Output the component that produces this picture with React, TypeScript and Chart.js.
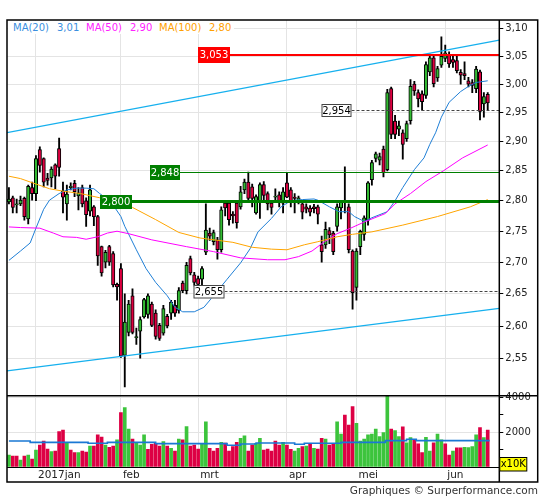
import React, { useEffect, useRef } from 'react';
import { Chart, registerables } from 'chart.js';

Chart.register(...registerables);

const FONT = '"DejaVu Sans", sans-serif';
const GRID = '#e4e4e4';
const GREEN = '#33bb33';
const RED = '#dd0040';
const VGREEN = '#3cc43c';
const VRED = '#dd0044';

// x axis: trading-day index, month starts
const monthTicks = [7, 29, 49, 72, 90, 113];
const monthLabels = ['2017jan', 'feb', 'mrt', 'apr', 'mei', 'jun'];

// price axis ticks (log scale)
const priceTicks = [2.55, 2.6, 2.65, 2.7, 2.75, 2.8, 2.85, 2.9, 2.95, 3.0, 3.05, 3.1];
const priceMin = 2.495;
const priceMax = 3.1161;

// volume axis (x10K)
const volTicks = [0, 1000, 2000, 3000, 4000];
const volLabelTicks = [2000, 4000];
const volMax = 4110;

const open = [
  2.798, 2.805, 2.793, 2.795, 2.804, 2.770, 2.822, 2.812, 2.886, 2.871,
  2.838, 2.838, 2.860, 2.888, 2.816, 2.795, 2.822, 2.829, 2.808, 2.822,
  2.800, 2.783, 2.790, 2.774, 2.725, 2.700, 2.725, 2.714, 2.665, 2.690,
  2.555, 2.590, 2.647, 2.582, 2.592, 2.614, 2.618, 2.634, 2.620, 2.601,
  2.589, 2.615, 2.620, 2.632, 2.624, 2.667, 2.655, 2.706, 2.680, 2.674,
  2.673, 2.716, 2.747, 2.733, 2.736, 2.720, 2.796, 2.796, 2.778, 2.796,
  2.790, 2.818, 2.831, 2.823, 2.780, 2.798, 2.827, 2.812, 2.796, 2.806,
  2.810, 2.796, 2.830, 2.818, 2.806, 2.800, 2.795, 2.790, 2.788, 2.790,
  2.790, 2.728, 2.728, 2.751, 2.747, 2.758, 2.788, 2.797, 2.790, 2.718,
  2.660, 2.725, 2.745, 2.768, 2.835, 2.871, 2.868, 2.887, 2.852, 2.992,
  2.935, 2.921, 2.915, 2.905, 2.936, 3.000, 2.985, 2.983, 2.980, 3.022,
  3.047, 3.011, 3.034, 3.046, 3.052, 3.044, 3.042, 3.021, 3.019, 3.006,
  3.003, 2.992, 3.022, 2.965, 2.982,
];
const high = [
  2.822, 2.808, 2.803, 2.808, 2.806, 2.826, 2.831, 2.876, 2.891, 2.872,
  2.846, 2.857, 2.862, 2.906, 2.831, 2.826, 2.830, 2.834, 2.822, 2.826,
  2.805, 2.826, 2.792, 2.776, 2.726, 2.719, 2.727, 2.717, 2.667, 2.698,
  2.650, 2.640, 2.658, 2.597, 2.614, 2.643, 2.650, 2.637, 2.625, 2.604,
  2.632, 2.618, 2.640, 2.640, 2.660, 2.670, 2.700, 2.710, 2.684, 2.678,
  2.693, 2.795, 2.755, 2.752, 2.740, 2.790, 2.800, 2.800, 2.782, 2.800,
  2.824, 2.836, 2.848, 2.828, 2.810, 2.830, 2.832, 2.815, 2.800, 2.820,
  2.815, 2.822, 2.846, 2.822, 2.812, 2.808, 2.798, 2.795, 2.792, 2.794,
  2.793, 2.742, 2.765, 2.756, 2.750, 2.795, 2.800, 2.857, 2.795, 2.720,
  2.722, 2.752, 2.775, 2.832, 2.868, 2.882, 2.880, 2.892, 2.991, 2.995,
  2.945, 2.935, 2.920, 2.935, 3.008, 3.005, 2.990, 2.988, 3.040, 3.054,
  3.052, 3.032, 3.085, 3.070, 3.058, 3.050, 3.050, 3.026, 3.040, 3.012,
  3.008, 3.032, 3.025, 2.985, 2.985,
];
const low = [
  2.795, 2.780, 2.780, 2.792, 2.768, 2.762, 2.801, 2.800, 2.848, 2.823,
  2.826, 2.823, 2.820, 2.841, 2.780, 2.768, 2.818, 2.807, 2.785, 2.790,
  2.758, 2.775, 2.759, 2.695, 2.678, 2.691, 2.695, 2.661, 2.640, 2.552,
  2.508, 2.585, 2.588, 2.572, 2.551, 2.612, 2.612, 2.599, 2.580, 2.578,
  2.586, 2.597, 2.610, 2.615, 2.620, 2.652, 2.650, 2.680, 2.662, 2.660,
  2.655, 2.712, 2.735, 2.728, 2.705, 2.716, 2.775, 2.760, 2.763, 2.755,
  2.786, 2.812, 2.800, 2.790, 2.778, 2.771, 2.800, 2.785, 2.778, 2.798,
  2.790, 2.780, 2.805, 2.790, 2.780, 2.795, 2.770, 2.780, 2.775, 2.780,
  2.762, 2.700, 2.722, 2.730, 2.712, 2.750, 2.770, 2.780, 2.715, 2.626,
  2.640, 2.712, 2.735, 2.760, 2.826, 2.865, 2.860, 2.840, 2.850, 2.905,
  2.905, 2.910, 2.870, 2.900, 2.930, 2.980, 2.960, 2.954, 2.975, 3.015,
  2.995, 3.005, 3.030, 3.040, 3.030, 3.030, 3.020, 3.000, 3.008, 2.995,
  2.985, 2.985, 2.937, 2.942, 2.955,
];
const close = [
  2.803, 2.789, 2.795, 2.801, 2.774, 2.824, 2.812, 2.871, 2.859, 2.831,
  2.834, 2.853, 2.841, 2.856, 2.806, 2.811, 2.824, 2.815, 2.813, 2.795,
  2.777, 2.818, 2.774, 2.710, 2.683, 2.716, 2.700, 2.664, 2.661, 2.554,
  2.606, 2.634, 2.590, 2.584, 2.610, 2.641, 2.647, 2.601, 2.584, 2.581,
  2.627, 2.600, 2.637, 2.620, 2.655, 2.655, 2.695, 2.683, 2.668, 2.665,
  2.690, 2.752, 2.742, 2.748, 2.720, 2.785, 2.788, 2.769, 2.775, 2.764,
  2.815, 2.831, 2.804, 2.804, 2.807, 2.827, 2.809, 2.795, 2.789, 2.808,
  2.797, 2.815, 2.806, 2.800, 2.804, 2.805, 2.781, 2.786, 2.781, 2.787,
  2.778, 2.717, 2.753, 2.744, 2.717, 2.790, 2.798, 2.799, 2.720, 2.652,
  2.718, 2.750, 2.772, 2.830, 2.864, 2.879, 2.874, 2.847, 2.985, 2.912,
  2.912, 2.927, 2.895, 2.931, 2.996, 2.988, 2.974, 2.969, 3.035, 3.047,
  3.001, 3.028, 3.050, 3.056, 3.036, 3.039, 3.024, 3.016, 3.015, 3.000,
  2.998, 3.027, 2.952, 2.978, 2.967,
];

// volume (x10K) and its colour (1 = green, 0 = red)
const volume = [
  690, 635, 635, 404, 635, 690, 460, 980, 1270, 1500,
  1040, 885, 923, 2040, 2135, 1420, 980, 827, 827, 923,
  865, 1210, 1210, 1850, 1730, 1270, 1135, 1210, 1560, 3135,
  3420, 2190, 1615, 1400, 1270, 1850, 1020, 1310, 1365, 1210,
  1460, 1210, 1080, 923, 1615, 1560, 2330, 1210, 1270, 1040,
  1310, 2600, 1080, 923, 1080, 1420, 1385, 923, 1170, 1420,
  1650, 1790, 923, 1270, 1365, 1650, 980, 1040, 923, 1500,
  1270, 1420, 1270, 1020, 923, 1080, 1170, 1210, 1330, 1080,
  1040, 1650, 1615, 1270, 1365, 2600, 1900, 3000, 2420, 3480,
  2520, 1500, 1615, 1850, 1900, 2190, 1750, 1980, 4115, 2190,
  2100, 1750, 2310, 1400, 1690, 1600, 1330, 830, 1710, 923,
  1400, 1900, 1560, 1330, 690, 923, 1100, 1100, 1135, 1115,
  1170, 1850, 2270, 1690, 2135,
];
const volUp = [
  1, 0, 0, 1, 0, 1, 0, 1, 0, 0,
  0, 1, 0, 0, 0, 1, 0, 0, 1, 0,
  0, 1, 0, 0, 0, 1, 0, 0, 1, 0,
  1, 1, 0, 1, 1, 1, 0, 0, 0, 0,
  1, 0, 1, 0, 1, 0, 1, 0, 0, 0,
  1, 1, 0, 0, 0, 1, 0, 0, 0, 0,
  1, 1, 0, 0, 1, 1, 0, 0, 0, 0,
  0, 1, 0, 0, 1, 1, 0, 1, 0, 1,
  0, 0, 1, 0, 0, 1, 1, 0, 0, 0,
  1, 1, 1, 1, 1, 1, 1, 1, 1, 0,
  1, 1, 0, 1, 1, 0, 0, 0, 1, 1,
  0, 1, 1, 0, 0, 1, 0, 0, 1, 1,
  1, 1, 0, 1, 0,
];

// moving averages read at sampled bar positions
const ma20X = [0, 3, 5.5, 7, 9, 10.5, 13, 15, 17.5, 20, 22, 23.5, 25.5, 27.5, 29, 30, 33, 35.5, 38, 41, 43, 45, 48, 50.5, 53, 56.5, 60, 62.5, 64.5, 68, 70.5, 73, 76, 79, 80, 83, 85.5, 88, 89.5, 92, 94, 98, 100, 102, 105, 107.5, 109, 110.5, 112, 114, 117, 119, 121, 124];
const ma20Y = [2.703, 2.718, 2.731, 2.755, 2.786, 2.801, 2.812, 2.818, 2.821, 2.821, 2.820, 2.812, 2.803, 2.788, 2.774, 2.758, 2.720, 2.690, 2.668, 2.647, 2.629, 2.622, 2.622, 2.629, 2.647, 2.673, 2.699, 2.722, 2.749, 2.771, 2.790, 2.800, 2.802, 2.803, 2.801, 2.790, 2.782, 2.782, 2.774, 2.766, 2.772, 2.782, 2.800, 2.822, 2.852, 2.872, 2.895, 2.915, 2.942, 2.968, 2.987, 2.996, 3.003, 3.006];
const ma50X = [0, 3, 8, 11.5, 14, 17.5, 20, 23, 25.5, 28, 31, 37, 46, 53, 60, 67, 71.5, 75, 78.5, 81.5, 85, 88.5, 92, 97.5, 100, 104, 108, 112.5, 117.5, 124];
const ma50Y = [2.757, 2.756, 2.755, 2.747, 2.741, 2.740, 2.737, 2.741, 2.747, 2.750, 2.746, 2.736, 2.725, 2.717, 2.707, 2.704, 2.704, 2.709, 2.718, 2.732, 2.746, 2.755, 2.765, 2.779, 2.795, 2.812, 2.832, 2.850, 2.872, 2.894];
const ma100X = [0, 3, 6.5, 10.5, 14, 18.5, 23.5, 32, 38, 44, 49.5, 58, 63, 68, 72, 76.5, 80, 85, 89, 94, 102, 111, 119.5, 124];
const ma100Y = [2.841, 2.837, 2.829, 2.820, 2.816, 2.812, 2.805, 2.789, 2.769, 2.748, 2.739, 2.732, 2.724, 2.721, 2.720, 2.728, 2.733, 2.741, 2.745, 2.749, 2.760, 2.774, 2.790, 2.802];

// regression channel
const chanX = [-0.5, 127];
const chanUpper = [2.9151, 3.0793];
const chanLower = [2.532, 2.6274];

// average volume (stepped)
const volAvgX = [0, 5.5, 20.5, 25.5, 38, 56.5, 60, 64, 74, 76.5, 86, 97.5, 103, 105.5, 124.5];
const volAvgY = [1500, 1420, 1365, 1420, 1350, 1250, 1330, 1385, 1310, 1365, 1420, 1520, 1600, 1520, 1520];

// price levels
const levels = [3.053, 2.954, 2.848, 2.8, 2.655];
const levelText = ['3,053', '2,954', '2,848', '2,800', '2,655'];

const levelStyle = [
  { x: 198, w: 32, h: 16, fill: '#ff0000', border: '', text: '#ffffff', line: '#ff0000', lw: 2, dash: [] as number[] },
  { x: 321.5, w: 30, h: 13, fill: '#ffffff', border: '#444444', text: '#000000', line: '#444444', lw: 1, dash: [3, 2] },
  { x: 150, w: 30, h: 15, fill: '#007f00', border: '', text: '#ffffff', line: '#007f00', lw: 1, dash: [] as number[] },
  { x: 100, w: 32, h: 14, fill: '#007f00', border: '', text: '#ffffff', line: '#007f00', lw: 3, dash: [] as number[] },
  { x: 193.5, w: 31, h: 13.5, fill: '#ffffff', border: '#444444', text: '#000000', line: '#444444', lw: 1, dash: [3, 2] },
];

const legendItems = [
  { t: 'MA(20)', x: 13, c: '#3a8fe0' },
  { t: '3,01', x: 57, c: '#3a8fe0' },
  { t: 'MA(50)', x: 86, c: '#ff22ff' },
  { t: '2,90', x: 130, c: '#ff22ff' },
  { t: 'MA(100)', x: 159, c: '#ffa000' },
  { t: '2,80', x: 209, c: '#ffa000' },
];

export default function App() {
  const ref = useRef<HTMLCanvasElement>(null);

  useEffect(() => {
    const canvas = ref.current;
    if (!canvas) return;
    Chart.defaults.font.family = FONT;
    const idx = close.map((_, i) => i);
    const up = close.map((c, i) => c >= open[i]);

    const overlay = {
      id: 'overlay',
      afterDatasetsDraw(chart: any) {
        const { ctx, chartArea, scales } = chart;
        const ys = scales.y;
        ctx.save();
        levels.forEach((lv, k) => {
          const st = levelStyle[k];
          const raw = ys.getPixelForValue(lv);
          const py = st.lw % 2 === 1 ? Math.round(raw) + 0.5 : Math.round(raw);
          ctx.beginPath();
          ctx.strokeStyle = st.line;
          ctx.lineWidth = st.lw;
          ctx.setLineDash(st.dash);
          ctx.moveTo(st.x + st.w, py);
          ctx.lineTo(chartArea.right, py);
          ctx.stroke();
          ctx.setLineDash([]);
          ctx.fillStyle = st.fill;
          ctx.fillRect(st.x, Math.round(py - st.h / 2), st.w, st.h);
          if (st.border) {
            ctx.strokeStyle = st.border;
            ctx.lineWidth = 1;
            ctx.strokeRect(st.x + 0.5, Math.round(py - st.h / 2) + 0.5, st.w - 1, st.h - 1);
          }
          ctx.fillStyle = st.text;
          ctx.font = '10px ' + FONT;
          ctx.textAlign = 'center';
          ctx.textBaseline = 'middle';
          ctx.fillText(levelText[k], st.x + st.w / 2, py + 0.5);
        });
        ctx.restore();
      },
      afterDraw(chart: any) {
        const { ctx, chartArea, scales } = chart;
        const yv = scales.yv;
        ctx.save();
        ctx.strokeStyle = '#000';
        ctx.lineWidth = 1.5;
        ctx.strokeRect(7, 20, 530.7, 462);
        ctx.beginPath();
        ctx.moveTo(7, yv.top);
        ctx.lineTo(537.7, yv.top);
        ctx.moveTo(chartArea.right, 20);
        ctx.lineTo(chartArea.right, 482);
        ctx.stroke();
        // x10K unit box
        ctx.fillStyle = '#ffff00';
        ctx.fillRect(chartArea.right + 0.5, 457.5, 27, 13.5);
        ctx.lineWidth = 1;
        ctx.strokeRect(chartArea.right + 0.5, 457.5, 27, 13.5);
        ctx.fillStyle = '#000';
        ctx.font = '10px ' + FONT;
        ctx.textAlign = 'center';
        ctx.textBaseline = 'middle';
        ctx.fillText('x10K', chartArea.right + 14, 464.5);
        ctx.restore();
      },
    };

    const line = (xs: number[], ys: number[], color: string, width: number, axis = 'y') => ({
      type: 'line' as const,
      yAxisID: axis,
      data: xs.map((x, k) => ({ x, y: ys[k] })),
      borderColor: color,
      borderWidth: width,
      pointRadius: 0,
      tension: 0,
      fill: false,
      order: 1,
    });

    const chart = new Chart(canvas, {
      type: 'line',
      data: {
        datasets: [
          line(chanX, chanUpper, '#16b0ee', 1.2),
          line(chanX, chanLower, '#16b0ee', 1.2),
          line(ma100X, ma100Y, '#ffa500', 1),
          line(ma50X, ma50Y, '#ff00ff', 1),
          line(ma20X, ma20Y, '#1f7fd6', 1),
          { ...line(volAvgX, volAvgY, '#1a78d4', 1.6, 'yv'), stepped: 'before' },
          {
            type: 'bar',
            yAxisID: 'y',
            data: idx.map((i) => ({ x: i, y: [open[i], close[i]] })),
            backgroundColor: idx.map((i) => (up[i] ? GREEN : RED)),
            borderColor: '#000',
            borderWidth: 1,
            borderSkipped: false,
            grouped: false,
            barThickness: 3.4,
            maxBarThickness: 3.4,
            order: 2,
          },
          {
            type: 'bar',
            yAxisID: 'y',
            data: idx.map((i) => ({ x: i, y: [low[i], high[i]] })),
            backgroundColor: '#000',
            borderWidth: 0,
            grouped: false,
            barThickness: 1.2,
            maxBarThickness: 1.2,
            order: 3,
          },
          {
            type: 'bar',
            yAxisID: 'yv',
            data: idx.map((i) => ({ x: i, y: volume[i] })),
            backgroundColor: idx.map((i) => (volUp[i] ? VGREEN : VRED)),
            borderWidth: 0,
            grouped: false,
            barThickness: 3,
            maxBarThickness: 3,
            order: 3,
          },
        ] as any,
      },
      options: {
        responsive: false,
        animation: false,
        events: [],
        layout: { padding: { left: 7, top: 20, right: 7.3, bottom: 18 }, autoPadding: false },
        plugins: { legend: { display: false }, tooltip: { enabled: false } },
        scales: {
          x: {
            type: 'linear',
            min: -0.5,
            max: 127,
            offset: false,
            bounds: 'data',
            afterBuildTicks: (s: any) => {
              s.ticks = monthTicks.map((v) => ({ value: v }));
            },
            afterFit: (s: any) => {
              s.height = 15;
            },
            grid: { color: GRID, drawTicks: false, offset: false },
            border: { display: true, color: '#000', width: 1 },
            ticks: {
              autoSkip: false,
              maxRotation: 0,
              minRotation: 0,
              align: 'start',
              labelOffset: 2,
              padding: 2,
              color: '#222',
              font: { family: FONT, size: 10.5 },
              callback: (v: any) => {
                const k = monthTicks.indexOf(Number(v));
                return k >= 0 ? monthLabels[k] : '';
              },
            },
          },
          y: {
            type: 'logarithmic',
            position: 'right',
            stack: 'panels',
            stackWeight: 375.7,
            min: priceMin,
            max: priceMax,
            bounds: 'data',
            afterBuildTicks: (s: any) => {
              s.ticks = priceTicks.map((v) => ({ value: v }));
            },
            afterFit: (s: any) => {
              s.width = 38.4;
            },
            grid: { color: GRID, tickColor: '#000', tickLength: 4 },
            border: { display: true, color: '#000', width: 1 },
            ticks: {
              autoSkip: false,
              padding: 2,
              color: '#222',
              font: { family: FONT, size: 10 },
              callback: (v: any) => Number(v).toFixed(2).replace('.', ','),
            },
          },
          yv: {
            type: 'linear',
            position: 'right',
            stack: 'panels',
            stackWeight: 71.3,
            min: 0,
            max: volMax,
            bounds: 'data',
            afterBuildTicks: (s: any) => {
              s.ticks = volTicks.map((v) => ({ value: v }));
            },
            afterFit: (s: any) => {
              s.width = 38.4;
            },
            grid: {
              color: (c: any) => (c.tick && volLabelTicks.includes(c.tick.value) ? GRID : 'rgba(0,0,0,0)'),
              tickColor: (c: any) => (c.tick && c.tick.value > 0 ? '#000' : 'rgba(0,0,0,0)'),
              tickLength: 4,
            },
            border: { display: true, color: '#000', width: 1 },
            ticks: {
              autoSkip: false,
              padding: 2,
              color: '#222',
              font: { family: FONT, size: 10 },
              callback: (v: any) => (volLabelTicks.includes(Number(v)) ? String(v) : ''),
            },
          },
        },
      } as any,
      plugins: [overlay],
    });
    return () => chart.destroy();
  }, []);

  return (
    <div style={{ position: 'absolute', left: 0, top: 0, width: 545, height: 500, background: '#fff', fontFamily: FONT }}>
      <canvas ref={ref} width={545} height={500} style={{ display: 'block', width: 545, height: 500 }} />
      <div style={{ position: 'absolute', left: 8, top: 21, width: 226, height: 13, background: '#fff' }} />
      {legendItems.map((it) => (
        <span
          key={it.t + it.x}
          style={{ position: 'absolute', left: it.x, top: 21, fontSize: 10, lineHeight: '13px', color: it.c, whiteSpace: 'nowrap' }}
        >
          {it.t}
        </span>
      ))}
      <div
        style={{ position: 'absolute', left: 0, top: 484, width: 538, textAlign: 'right', fontSize: 10.5, lineHeight: '13px', color: '#333', whiteSpace: 'nowrap' }}
      >
        Graphiques © Surperformance.com
      </div>
    </div>
  );
}
